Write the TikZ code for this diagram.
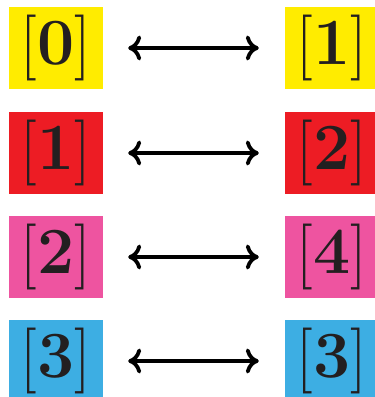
\documentclass[tikz,border=0pt]{standalone}
\usepackage{fontspec}
\usetikzlibrary{arrows.meta}
\definecolor{cyel}{RGB}{255,236,0}
\definecolor{cred}{RGB}{237,28,36}
\definecolor{cpink}{RGB}{238,84,160}
\definecolor{cblue}{RGB}{61,174,227}
\definecolor{ink}{RGB}{35,31,32}
\tikzset{
  box/.style={minimum width=94pt, minimum height=82pt, inner sep=0pt, text=ink,
    font=\fontsize{66}{66}\selectfont},
  dbl/.style={line width=3.8pt, draw=black,
    {Computer Modern Rightarrow[length=13pt,width=25pt,line width=3.8pt]}-{Computer Modern Rightarrow[length=13pt,width=25pt,line width=3.8pt]},
    shorten <=25pt, shorten >=26pt}
}
\begin{document}
\begin{tikzpicture}[x=1pt,y=-1pt]
\useasboundingbox (0,0) rectangle (375,397);
\clip (0,0) rectangle (375,397);
\node[box, fill=cyel]  (l0) at (56,48)    {[\textbf{0}]};
\node[box, fill=cyel]  (r0) at (332,48)   {[\textbf{1}]};
\node[box, fill=cred]  (l1) at (56,153)   {[\textbf{1}]};
\node[box, fill=cred]  (r1) at (332,153)  {[\textbf{2}]};
\node[box, fill=cpink] (l2) at (56,257) {[\textbf{2}]};
\node[box, fill=cpink] (r2) at (332,257){[\textbf{4}]};
\node[box, fill=cblue] (l3) at (56,361)   {[\textbf{3}]};
\node[box, fill=cblue] (r3) at (332,361)  {[\textbf{3}]};
\draw[dbl] (l0) -- (r0);
\draw[dbl] (l1) -- (r1);
\draw[dbl] (l2) -- (r2);
\draw[dbl] (l3) -- (r3);
\end{tikzpicture}
\end{document}
